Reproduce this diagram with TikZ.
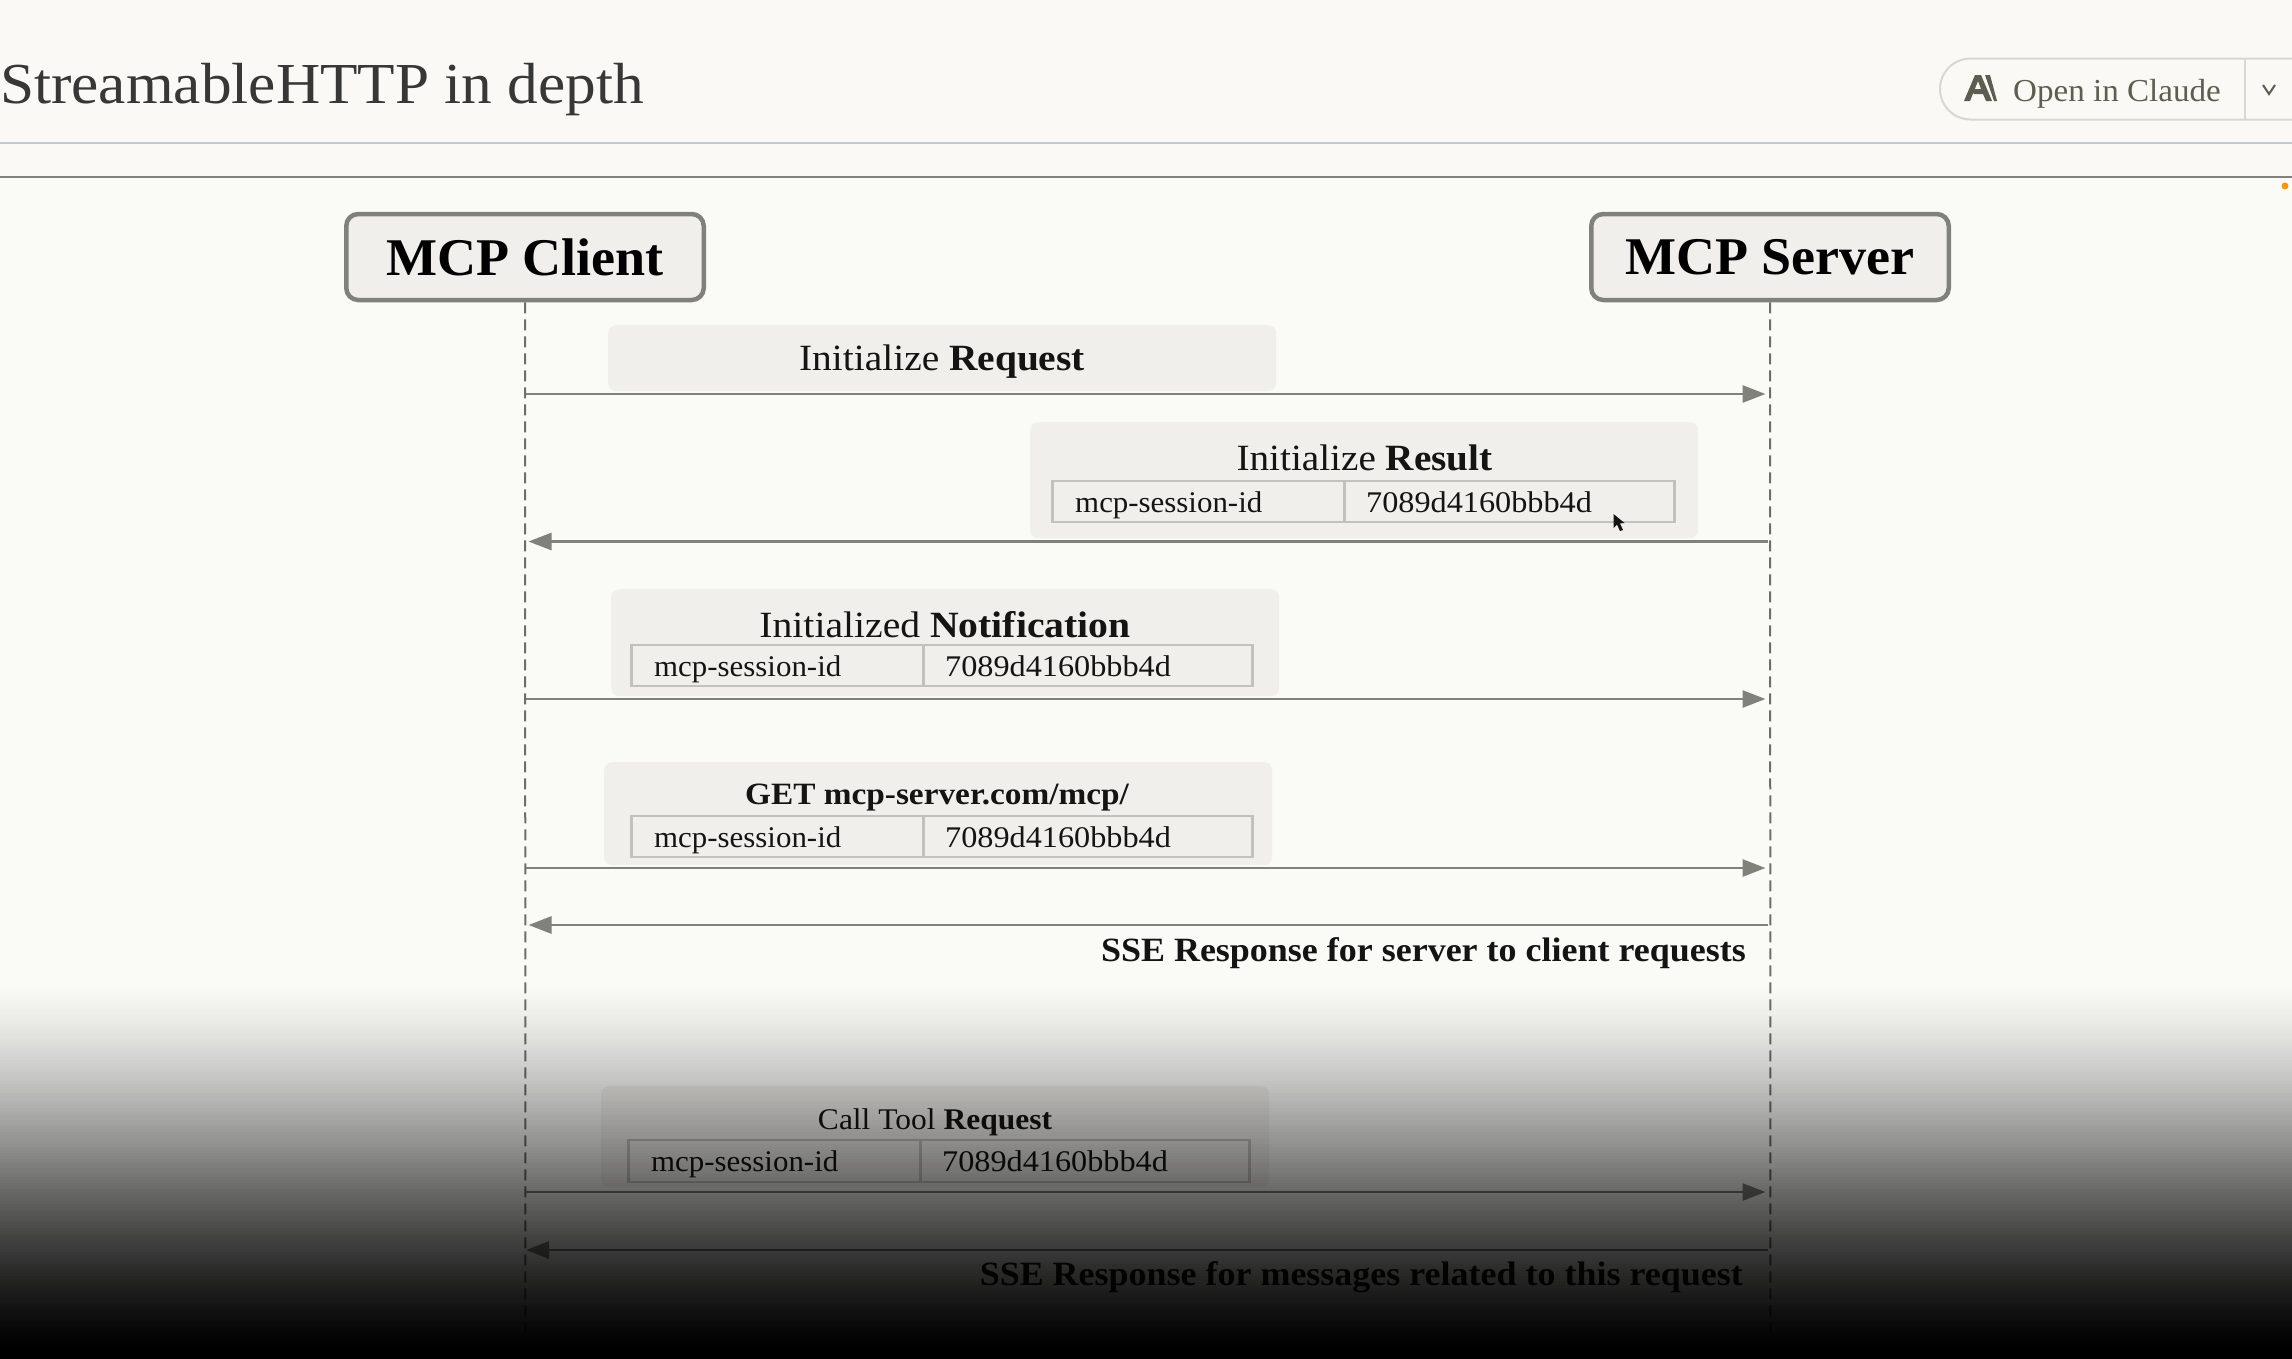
\documentclass[tikz,border=0pt]{standalone}
\usepackage{fontspec}
\setmainfont{Liberation Serif}
\usetikzlibrary{arrows.meta}
\definecolor{pagetop}{HTML}{FAF9F5}
\definecolor{pagebody}{HTML}{FAFBF7}
\definecolor{panel}{HTML}{F0EFEB}
\definecolor{wire}{HTML}{7F817A}
\definecolor{cellline}{HTML}{C2C2BD}
\definecolor{ink}{HTML}{141413}
\definecolor{btn}{HTML}{5E5D52}
\definecolor{ruleblue}{HTML}{C5CAD2}
\newcommand{\fs}[1]{\fontsize{#1}{#1}\selectfont}
\newcommand{\sx}[2]{\scalebox{#1}[1]{#2}}
\tikzset{
  actor/.style={draw=wire,fill=panel,line width=4.5pt,rounded corners=12pt,inner sep=0pt,text=black},
  msgbox/.style={fill=panel,rounded corners=8pt,inner sep=0pt,anchor=north west},
  cell/.style={draw=cellline,line width=2.6pt,inner sep=0pt,anchor=north west},
  txt/.style={inner sep=0pt,anchor=base,text=ink},
  txtl/.style={txt,anchor=base west},
  txtr/.style={txt,anchor=base east},
  lifeline/.style={draw=wire!85!black,line width=2pt,dash pattern=on 11pt off 6pt},
  msg/.style={draw=wire,line width=2.8pt,-{Triangle[length=23pt,width=17pt]},shorten >=#1},
  msg/.default=3pt,
}
% \sessionrow{name}{x0}{xdiv}{x1}{y0}{y1}{baseline}
\newcommand{\sessionrow}[7]{%
  \pgfmathsetmacro{\wa}{#3-#2-1}\pgfmathsetmacro{\wb}{#4-#3-1}\pgfmathsetmacro{\hh}{#6-#5-1}%
  \node[cell,minimum width=\wa pt,minimum height=\hh pt] (#1key) at (#2-1,#5-1.5) {};
  \node[cell,minimum width=\wb pt,minimum height=\hh pt] (#1val) at (#3-2,#5-1.5) {};
  \node[txtl] (#1keyt) at (#2+23,#7-1) {\fs{30}\sx{1.03}{mcp-session-id}};
  \node[txtl] (#1valt) at (#3+21,#7-1) {\fs{30}\sx{1.075}{7089d4160bbb4d}};
}
\begin{document}
\begin{tikzpicture}[x=1pt,y=-1pt]
\useasboundingbox (0,0) rectangle (2292,1358);
\fill[pagetop] (0,0) rectangle (2292,177);
\fill[pagebody] (0,177) rectangle (2292,1360);
\draw[ruleblue,line width=2pt] (0,143) -- (2292,143);
\draw[wire,line width=2pt] (0,177) -- (2292,177);

% header
\node[txtl] (title) at (0,103.5) {\fs{58}\color{ink!85}\sx{1.057}{StreamableHTTP in depth}};
\draw[panel!90!black,line width=2pt,fill=pagetop] (2294,58.5) -- (1970.5,58.5) arc[start angle=270,end angle=90,radius=30.5] -- (2294,119.5);
\draw[panel!90!black,line width=2pt] (2245,58.5) -- (2245,119.5);
\fill[btn] (1964,101) -- (1975,75) -- (1981,75) -- (1992,101) -- (1986,101) -- (1983,94) -- (1974,94) -- (1972,89) -- (1981,89) -- (1978,81) -- (1970,101) -- cycle;
\fill[btn] (1985,75) -- (1990,75) -- (1997,101) -- (1994,101) -- cycle;
\node[txtl] (open) at (2013,101) {\fs{32}\color{btn}\sx{1.034}{Open in Claude}};
\draw[btn,line width=2pt] (2263,85) -- (2269,94) -- (2275,85);
\fill[orange!85!yellow] (2285,186) circle (3.5pt);

% actors
\node[actor,minimum width=357.5pt,minimum height=86pt] (client) at (525,257) {\fs{53}\bfseries\sx{1.02}{MCP Client}};
\node[actor,minimum width=357.5pt,minimum height=86pt] (server) at (1770,257) {\fs{53}\bfseries\sx{1.02}{MCP Server}};
\coordinate (clientend) at (525.5,1358);
\coordinate (serverend) at (1770.5,1358);
\draw[lifeline] (client.south) -- (clientend);
\draw[lifeline] (server.south) -- (serverend);

% message panels
\node[msgbox,minimum width=668pt,minimum height=66pt] (b1) at (608,325) {};
\node[txt] (t1) at (942,370.5) {\fs{37}\sx{1.066}{Initialize \bfseries Request}};
\node[msgbox,minimum width=668pt,minimum height=116pt] (b2) at (1030,422) {};
\node[txt] (t2) at (1364.5,470) {\fs{37}\sx{1.06}{Initialize \bfseries Result}};
\sessionrow{r2}{1052}{1345}{1676}{481}{523}{513}
\node[msgbox,minimum width=668pt,minimum height=107pt] (b3) at (611,589) {};
\node[txt] (t3) at (945,637) {\fs{37}\sx{1.072}{Initialized \bfseries Notification}};
\sessionrow{r3}{631}{924}{1254}{645}{687}{677}
\node[msgbox,minimum width=668pt,minimum height=103pt] (b4) at (604,762) {};
\node[txt] (t4) at (937,804.5) {\fs{31}\sx{1.075}{\bfseries GET mcp-server.com/mcp/}};
\sessionrow{r4}{631}{924}{1254}{816}{858}{848}
\node[msgbox,minimum width=668pt,minimum height=101pt] (b5) at (601,1086) {};
\node[txt] (t5) at (935,1129) {\fs{30}\sx{1.05}{Call Tool \bfseries Request}};
\sessionrow{r5}{628}{921}{1251}{1140}{1183}{1172}

% messages
\foreach \n/\y in {1/394,2/541.5,3/699,4/868,5/925,6/1192,7/1250}{
  \coordinate (cl\n) at (525.5,\y);
  \coordinate (sv\n) at (1770.5,\y);
}
\draw[msg=5pt] (cl1) -- (sv1);
\draw[msg,shorten <=3pt] (sv2) -- (cl2);
\draw[msg=5pt] (cl3) -- (sv3);
\draw[msg=5pt] (cl4) -- (sv4);
\draw[msg,shorten <=3pt] (sv5) -- (cl5);
\draw[msg=5pt] (cl6) -- (sv6);
\draw[msg=0.5pt,shorten <=3pt] (sv7) -- (cl7);
\node[txtr] (l5) at (1746,961) {\fs{34}\sx{1.058}{\bfseries SSE Response for server to client requests}};
\node[txtr] (l7) at (1743,1285.5) {\fs{34}\sx{1.058}{\bfseries SSE Response for messages related to this request}};

% cursor
\fill[ink] (1613.5,514) -- (1613.5,528) -- (1617,524.5) -- (1620,531) -- (1623,530) -- (1620,523.5) -- (1624.5,523) -- cycle;

% fade to black
\foreach \i in {0,...,120}{
  \pgfmathsetmacro{\tt}{(\i+0.5)/122}
  \pgfmathsetmacro{\al}{min(1,0.5*\tt+0.5*(3*\tt*\tt-2*\tt*\tt*\tt))}
  \fill[black,fill opacity=\al] (0,985+3*\i) rectangle (2292,988+3*\i);
}
\fill[black] (0,1348) rectangle (2292,1360);
\end{tikzpicture}
\end{document}
